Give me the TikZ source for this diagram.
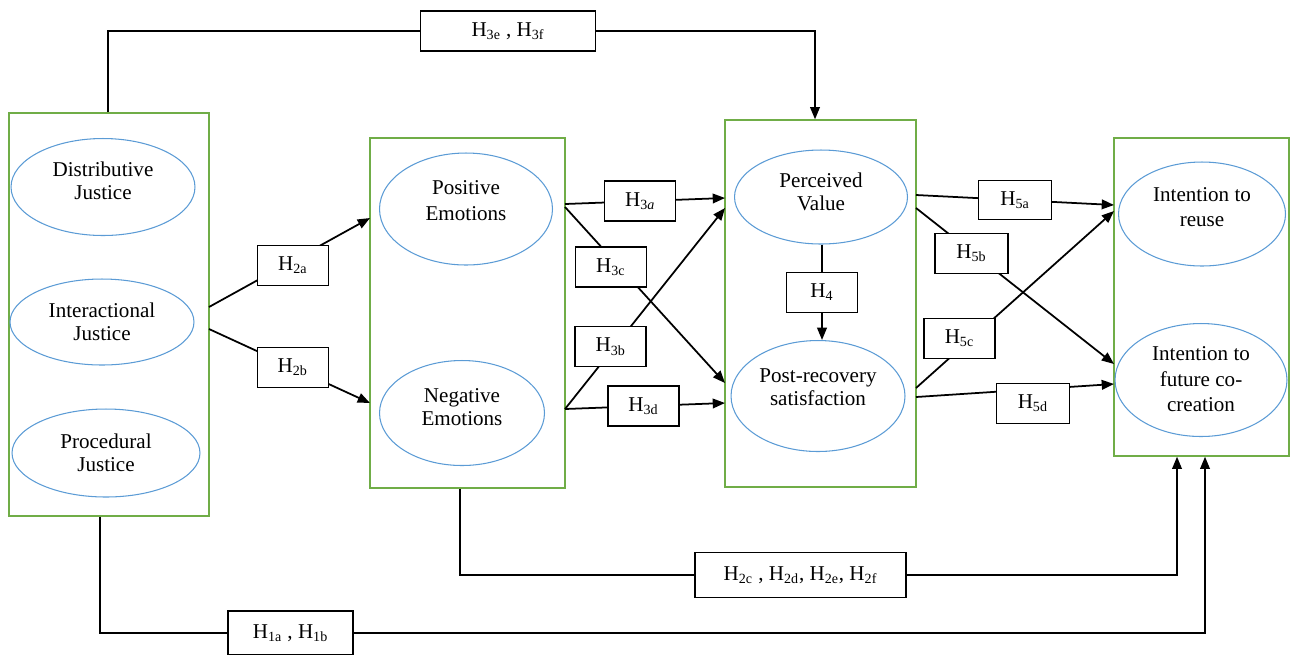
\documentclass[tikz,border=0pt]{standalone}
\usepackage{fontspec}
\setmainfont{Liberation Serif}
\usetikzlibrary{shapes.geometric,arrows.meta}
\definecolor{groupgreen}{RGB}{112,173,71}
\definecolor{constructblue}{RGB}{91,155,213}
\tikzset{
  group/.style={draw=groupgreen, line width=0.8pt, inner sep=0pt},
  construct/.style={ellipse, draw=constructblue, line width=0.6pt, align=center,
    inner sep=0pt, font=\fontsize{12}{13}\selectfont},
  hbox/.style={draw, fill=white, line width=0.8pt, minimum width=1.42cm,
    minimum height=0.8cm, inner sep=0pt, font=\fontsize{12}{14}\selectfont},
  arr/.style={-{Triangle[length=7pt,width=5.5pt]}, line width=1pt},
  link/.style={line width=1pt},
}
\begin{document}
\begin{tikzpicture}[x=0.02cm, y=-0.02cm]
    \useasboundingbox (0,0) rectangle (1290,654);
    % groups
    \node[group, minimum width=4cm, minimum height=8.06cm] (just) at (109,314.5) {};
    \node[group, minimum width=3.9cm, minimum height=7cm] (emo) at (467.5,313) {};
    \node[group, minimum width=3.82cm, minimum height=7.34cm] (med) at (820.5,303.5) {};
    \node[group, minimum width=3.5cm, minimum height=6.36cm] (outc) at (1201.5,297) {};
    % constructs
    \node[construct, minimum width=3.68cm, minimum height=1.94cm, text depth=7pt] (dj) at (103,187) {Distributive\\Justice};
    \node[construct, minimum width=3.68cm, minimum height=1.72cm] (ij) at (102,322) {Interactional\\Justice};
    \node[construct, minimum width=3.76cm, minimum height=1.76cm] (pj) at (106,453) {Procedural\\Justice};
    \node[construct, minimum width=3.46cm, minimum height=2.24cm, text depth=10pt,
      font=\fontsize{12}{15}\selectfont] (pe) at (466,209) {Positive\\Emotions};
    \node[construct, minimum width=3.3cm, minimum height=2.1cm, text depth=7pt] (ne) at (462,413) {Negative\\Emotions};
    \node[construct, minimum width=3.46cm, minimum height=1.88cm, text depth=6pt] (pv) at (821,197) {Perceived\\Value};
    \node[construct, minimum width=3.48cm, minimum height=2.22cm, text depth=10pt] (prs) at (818,396) {Post-recovery\\satisfaction};
    \node[construct, minimum width=3.34cm, minimum height=2.08cm, text depth=8pt,
      font=\fontsize{12}{14}\selectfont] (ir) at (1202,214) {Intention to\\reuse};
    \node[construct, minimum width=3.44cm, minimum height=2.26cm, text depth=1pt,
      font=\fontsize{12}{14.5}\selectfont] (ifc) at (1201,380) {Intention to\\future co-\\creation};
    % border points
    \coordinate (jOutA) at (209,307);
    \coordinate (jOutB) at (209,329);
    \coordinate (eInA) at (370,218);
    \coordinate (eInB) at (370,403);
    \coordinate (pOutA) at (565,204);
    \coordinate (pOutB) at (565,207);
    \coordinate (nOut) at (565,409);
    \coordinate (mInA) at (725,198);
    \coordinate (mInB) at (725,208);
    \coordinate (mInC) at (725,383);
    \coordinate (mInD) at (725,403);
    \coordinate (vOutA) at (916,195);
    \coordinate (vOutB) at (916,208);
    \coordinate (sOutA) at (916,388);
    \coordinate (sOutB) at (916,397);
    \coordinate (oInA) at (1114,205);
    \coordinate (oInB) at (1114,211);
    \coordinate (oInC) at (1114,364);
    \coordinate (oInD) at (1114,384);
    % hypotheses
    \draw[arr] (jOutA) -- node[hbox, pos=.52, yshift=-0.09cm] (h2a) {H\textsubscript{2a}} (eInA);
    \draw[arr] (jOutB) -- node[hbox, pos=.52] (h2b) {H\textsubscript{2b}} (eInB);
    \draw[arr] (pOutA) -- node[hbox, pos=.47] (h3a) {H\textsubscript{3\textit{a}}} (mInA);
    \draw[arr] (pOutB) -- node[hbox, pos=.34, xshift=-0.17cm] (h3c) {H\textsubscript{3c}} (mInC);
    \draw[arr] (nOut) -- node[hbox, pos=.31, xshift=-0.08cm] (h3b) {H\textsubscript{3b}} (mInB);
    \draw[arr] (nOut) -- node[hbox, pos=.49] (h3d) {H\textsubscript{3d}} (mInD);
    \draw[arr] ([xshift=0.02cm]pv.south) -- node[hbox, pos=.5] (h4) {H\textsubscript{4}} ([xshift=0.02cm]pv.south |- prs.north);
    \draw[arr] (vOutA) -- node[hbox, pos=.5, minimum width=1.46cm, minimum height=0.78cm] (h5a) {H\textsubscript{5a}} (oInA);
    \draw[arr] (vOutB) -- node[hbox, pos=.29, xshift=-0.04cm, minimum width=1.46cm] (h5b) {H\textsubscript{5b}} (oInC);
    \draw[arr] (sOutA) -- node[hbox, pos=.28, xshift=-0.24cm] (h5c) {H\textsubscript{5c}} (oInB);
    \draw[arr] (sOutB) -- node[hbox, pos=.59, yshift=-0.28cm, minimum width=1.46cm] (h5d) {H\textsubscript{5d}} (oInD);
    % long routes
    \node[hbox, minimum width=3.5cm] (h3ef) at (508,31) {H\textsubscript{3e} , H\textsubscript{3f}};
    \node[hbox, minimum width=4.22cm, minimum height=0.9cm] (h2cf) at (800.5,575) {H\textsubscript{2c} , H\textsubscript{2d}, H\textsubscript{2e}, H\textsubscript{2f}};
    \node[hbox, minimum width=2.5cm, minimum height=0.88cm] (h1ab) at (290.5,633) {H\textsubscript{1a} , H\textsubscript{1b}};
    \draw[link] ([xshift=-0.02cm]just.north) |- (h3ef);
    \draw[arr] (h3ef) -| ([xshift=-0.11cm]med.north);
    \draw[link] ([xshift=-0.15cm]emo.south) |- (h2cf);
    \draw[arr] (h2cf) -| ([xshift=-0.49cm]outc.south);
    \draw[link] ([xshift=-0.18cm]just.south) |- (h1ab);
    \draw[arr] (h1ab) -| ([xshift=0.07cm]outc.south);
\end{tikzpicture}
\end{document}
